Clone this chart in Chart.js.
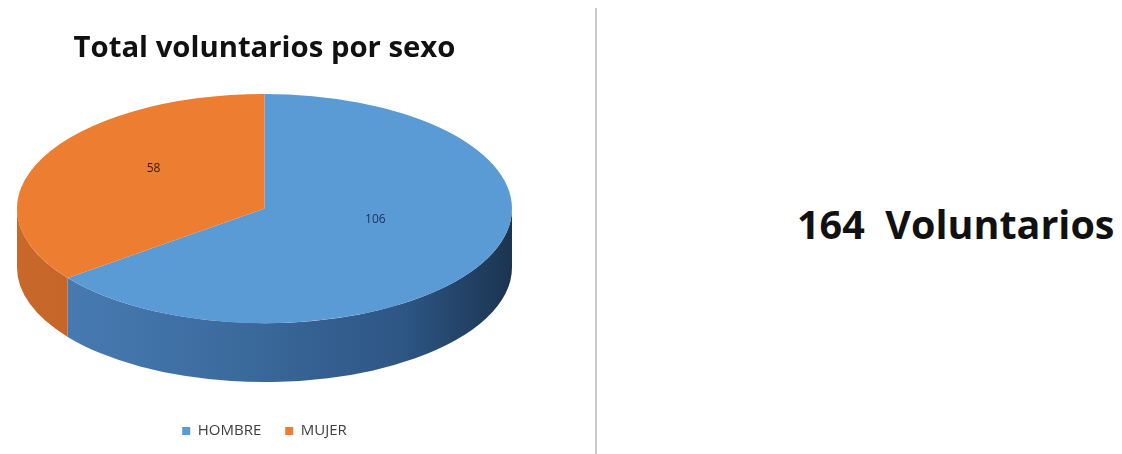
<!DOCTYPE html>
<html lang="es">
<head>
<meta charset="utf-8">
<title>Total voluntarios por sexo</title>
<script src="https://cdn.jsdelivr.net/npm/chart.js@4.4.1/dist/chart.umd.min.js"></script>
<style>
  html, body { margin:0; padding:0; background:#fff; }
  body { width:1122px; height:454px; position:relative; overflow:hidden; font-family:'Open Sans', sans-serif; }
  .chart-box { position:absolute; left:0; top:0; width:595px; height:454px; }
  .divider { position:absolute; left:595px; top:8px; width:2px; height:446px; background:#c9c9c9; }
  .total { position:absolute; left:797px; top:204px; font-size:39.5px; line-height:40px; font-weight:700; color:#111; white-space:pre; }
</style>
</head>
<body>
  <div class="chart-box"><canvas id="pieChart"></canvas></div>
  <div class="divider"></div>
  <div class="total" id="totalText"></div>

<script>
  // Datos
  const categories  = ['HOMBRE', 'MUJER'];
  const voluntarios = [106, 58];
  const colores     = ['#5B9BD5', '#ED7D31'];
  const labelColors = ['#1a3260', '#3b1a06'];

  // 3D look (ratios of the horizontal radius)
  const TILT  = 0.463;
  const DEPTH = 0.238;
  const LIFT  = 0.13;

  const sideStops = [
    [[0, '#4b7fb8'], [0.45, '#3b6a9d'], [0.78, '#2d5684'], [1, '#1b3450']],
    [[0, '#c8682a'], [1, '#ad541e']]
  ];

  function geom(chart){
    const ca = chart.chartArea;
    const rx = ca.width / 2;
    const ry = rx * TILT;
    return { cx:(ca.left + ca.right) / 2, cy:ca.top + ry, rx, ry, depth:rx * DEPTH };
  }

  const pie3d = {
    id: 'pie3d',
    // front wall of each slice, under the top face
    beforeDatasetsDraw(chart){
      const ctx = chart.ctx;
      const g = geom(chart);
      const meta = chart.getDatasetMeta(0);
      meta.data.forEach((arc, i)=>{
        const grad = ctx.createLinearGradient(g.cx - g.rx, 0, g.cx + g.rx, 0);
        sideStops[i].forEach(s => grad.addColorStop(s[0], s[1]));
        for(let k = -1; k <= 1; k++){
          const lo = Math.max(arc.startAngle + 2*Math.PI*k, 0);
          const hi = Math.min(arc.endAngle + 2*Math.PI*k, Math.PI);
          if(hi <= lo) continue;
          ctx.save();
          ctx.beginPath();
          ctx.ellipse(g.cx, g.cy, g.rx, g.ry, 0, lo, hi);
          ctx.ellipse(g.cx, g.cy + g.depth, g.rx, g.ry, 0, hi, lo, true);
          ctx.closePath();
          ctx.fillStyle = grad;
          ctx.fill();
          ctx.restore();
        }
      });
    },
    // squash the round pie into the tilted top face
    beforeDatasetDraw(chart){
      const ctx = chart.ctx;
      const g = geom(chart);
      const arc = chart.getDatasetMeta(0).data[0];
      ctx.save();
      ctx.translate(g.cx, g.cy);
      ctx.scale(g.rx / arc.outerRadius, g.ry / arc.outerRadius);
      ctx.translate(-arc.x, -arc.y);
    },
    afterDatasetDraw(chart){
      chart.ctx.restore();
    },
    // value labels
    afterDatasetsDraw(chart){
      const ctx = chart.ctx;
      const g = geom(chart);
      const meta = chart.getDatasetMeta(0);
      ctx.save();
      ctx.font = "12px 'Open Sans', sans-serif";
      ctx.textAlign = 'center';
      ctx.textBaseline = 'middle';
      meta.data.forEach((arc, i)=>{
        const p = arc.tooltipPosition();
        const x = g.cx + (p.x - arc.x) * g.rx / arc.outerRadius;
        const y = g.cy + (p.y - arc.y) * g.ry / arc.outerRadius - g.ry * LIFT;
        ctx.fillStyle = labelColors[i];
        ctx.fillText(String(voluntarios[i]), x, y);
      });
      ctx.restore();
    }
  };

  Chart.defaults.font.family = "'Open Sans', sans-serif";

  new Chart(document.getElementById('pieChart'), {
    type: 'pie',
    data: {
      labels: categories,
      datasets: [{
        data: voluntarios,
        backgroundColor: colores,
        borderWidth: 0,
        clip: false
      }]
    },
    options: {
      responsive: true,
      maintainAspectRatio: false,
      animation: false,
      events: [],
      layout: { padding: { left:17, right:83, top:0, bottom:5.5 } },
      plugins: {
        title: {
          display: true,
          text: 'Total voluntarios por sexo',
          color: '#111',
          font: { size:29.3, weight:'bold' },
          padding: { top:31.5, bottom:27.3 }
        },
        legend: {
          position: 'bottom',
          labels: {
            boxWidth: 8,
            boxHeight: 8,
            padding: 24,
            color: '#404040',
            font: { size:15 }
          }
        },
        tooltip: { enabled:false }
      }
    },
    plugins: [pie3d]
  });

  const total = voluntarios.reduce((a,b)=>a+b, 0);
  document.getElementById('totalText').textContent = total + '  Voluntarios';
</script>
</body>
</html>
